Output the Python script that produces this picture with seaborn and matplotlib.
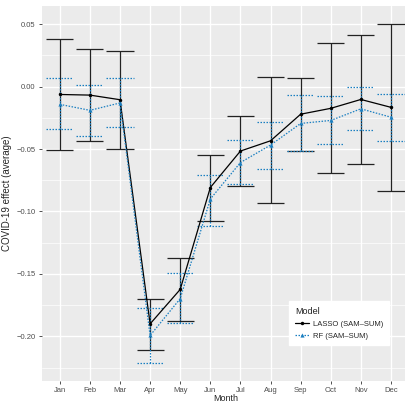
import numpy as np
import pandas as pd
import matplotlib
matplotlib.use("Agg")
import matplotlib.pyplot as plt
import seaborn as sns
from matplotlib.lines import Line2D

months = ["Jan", "Feb", "Mar", "Apr", "May", "Jun", "Jul", "Aug", "Sep", "Oct", "Nov", "Dec"]

lasso_mean = [-0.0063, -0.0068, -0.0105, -0.190, -0.1624, -0.0808, -0.0516, -0.0434, -0.0221, -0.0174, -0.0103, -0.0166]
lasso_hi = [0.0385, 0.0303, 0.0282, -0.170, -0.137, -0.055, -0.0234, 0.0074, 0.0069, 0.0348, 0.0416, 0.0503]
lasso_lo = [-0.0508, -0.0439, -0.050, -0.2106, -0.188, -0.1074, -0.0792, -0.0934, -0.0513, -0.0695, -0.0616, -0.0834]

rf_mean = [-0.0142, -0.019, -0.0131, -0.1993, -0.1698, -0.090, -0.0608, -0.0468, -0.0295, -0.0271, -0.0178, -0.0245]
rf_hi = [0.0066, 0.0011, 0.0069, -0.1772, -0.1493, -0.0705, -0.0431, -0.0284, -0.0071, -0.0079, -0.0005, -0.0058]
rf_lo = [-0.0342, -0.0395, -0.0324, -0.2217, -0.1896, -0.1114, -0.0779, -0.0658, -0.0513, -0.046, -0.0347, -0.0439]

models = ["LASSO (SAM\u2013SUM)", "RF (SAM\u2013SUM)"]

df = pd.DataFrame({
    "Month": months * 2,
    "x": list(range(12)) * 2,
    "effect": lasso_mean + rf_mean,
    "lo": lasso_lo + rf_lo,
    "hi": lasso_hi + rf_hi,
    "Model": [models[0]] * 12 + [models[1]] * 12,
})

sns.set_theme(style="darkgrid", rc={
    "axes.facecolor": "#EBEBEB",
    "grid.color": "white",
})
plt.rcParams["font.family"] = ["Liberation Sans", "DejaVu Sans"]

W, H = 405, 404
fig = plt.figure(figsize=(W / 100, H / 100), dpi=100)
ax_bottom = 0.058
ax_top = 0.985
ax = fig.add_axes([0.103, ax_bottom, 0.907, ax_top - ax_bottom])

blue = "#1a7fc1"
black = "#000000"
cap = 0.45

# error bars
for m, col, ls, lw in [(models[0], "#222222", "-", 0.9), (models[1], blue, (0, (1.2, 1.2)), 0.9)]:
    d = df[df["Model"] == m]
    ax.vlines(d["x"], d["lo"], d["hi"], colors=col, linestyles=ls, linewidth=lw, zorder=3)
    ax.hlines(d["lo"], d["x"] - cap, d["x"] + cap, colors=col, linestyles=ls, linewidth=lw, zorder=3)
    ax.hlines(d["hi"], d["x"] - cap, d["x"] + cap, colors=col, linestyles=ls, linewidth=lw, zorder=3)

sns.lineplot(data=df[df["Model"] == models[0]], x="x", y="effect", color=black,
             marker="o", markersize=2.5, markeredgewidth=0, linewidth=0.9, ax=ax, zorder=4)
sns.lineplot(data=df[df["Model"] == models[1]], x="x", y="effect", color=blue,
             marker="^", markersize=3, markeredgewidth=0, linewidth=0.9, linestyle=(0, (1.2, 1.2)),
             ax=ax, zorder=4)

ax.set_xlim(-0.6, 11.6)
ax.set_ylim(-0.2354, 0.0645)
ax.set_xticks(range(12))
ax.set_xticklabels(months)
ax.set_yticks([0.05, 0.0, -0.05, -0.10, -0.15, -0.20])
ax.set_yticklabels(["0.05", "0.00", "\u22120.05", "\u22120.10", "\u22120.15", "\u22120.20"])
ax.set_yticks([0.025, -0.025, -0.075, -0.125, -0.175, -0.225], minor=True)
ax.grid(True, which="major", color="white", linewidth=1.0)
ax.grid(True, which="minor", axis="y", color="white", linewidth=0.5)
ax.set_axisbelow(True)
for s in ax.spines.values():
    s.set_visible(False)
ax.tick_params(axis="both", which="major", labelsize=5.5, labelcolor="#4D4D4D", color="#333333",
               length=2.5, width=0.6, pad=2, direction="out", bottom=True, left=True)
ax.tick_params(axis="both", which="minor", length=0)
ax.set_xlabel("Month", fontsize=6.5, va="bottom")
ax.xaxis.set_label_coords(0.5, (1.0 - ax_bottom * H) / ((ax_top - ax_bottom) * H))
ax.set_ylabel("COVID-19 effect (average)", fontsize=7, labelpad=3)

handles = [
    Line2D([], [], color=black, marker="o", markersize=2.5, markeredgewidth=0, linewidth=0.9),
    Line2D([], [], color=blue, marker="^", markersize=3, markeredgewidth=0, linewidth=0.9, linestyle=(0, (1.2, 1.2))),
]
leg = ax.legend(handles, models, title="Model", loc="lower right", bbox_to_anchor=(0.955, 0.085),
                fontsize=5.5, title_fontsize=6.5, frameon=True, fancybox=False, framealpha=1,
                edgecolor="white", facecolor="white", handlelength=1.8, borderpad=0.7,
                labelspacing=0.6, handletextpad=0.6)
leg._legend_box.align = "left"
leg.get_title().set_color("#222222")

fig.savefig("out.png", dpi=100)
